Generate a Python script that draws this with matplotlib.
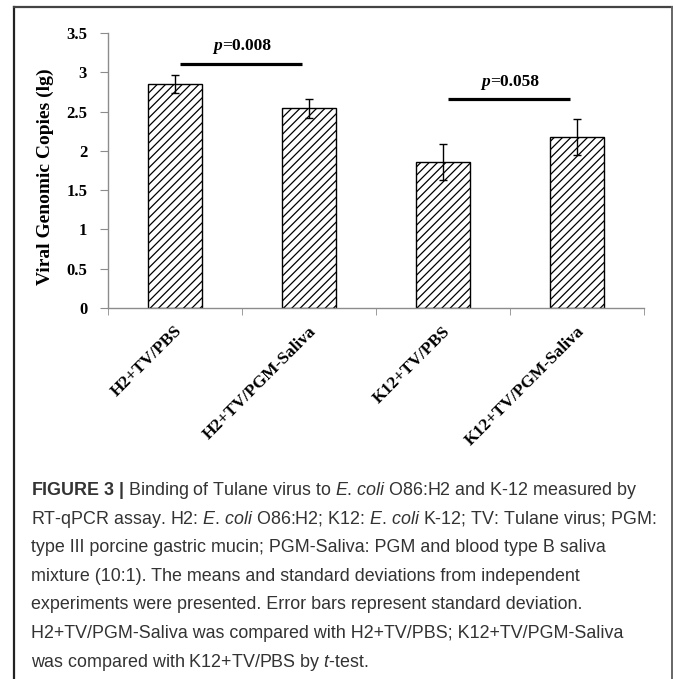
import numpy as np
import matplotlib
matplotlib.use("Agg")
import matplotlib.pyplot as plt
import matplotlib.transforms as mtransforms
from matplotlib.lines import Line2D

# data
groups = ["H2+TV/PBS", "H2+TV/PGM-Saliva", "K12+TV/PBS", "K12+TV/PGM-Saliva"]
means = [2.85, 2.54, 1.86, 2.18]
sds = [0.11, 0.12, 0.23, 0.23]
pvals = ["0.008", "0.058"]
pairs = [(0, 1), (2, 3)]
sig_y = [3.11, 2.66]
yticks = [0, 0.5, 1, 1.5, 2, 2.5, 3, 3.5]
ytick_labels = ["0", "0.5", "1", "1.5", "2", "2.5", "3", "3.5"]

caption = [
    r"$\mathbf{FIGURE\ 3\ |}$ Binding of Tulane virus to $\mathit{E}$. $\mathit{coli}$ O86:H2 and K-12 measured by",
    r"RT-qPCR assay. H2: $\mathit{E}$. $\mathit{coli}$ O86:H2; K12: $\mathit{E}$. $\mathit{coli}$ K-12; TV: Tulane virus; PGM:",
    "type III porcine gastric mucin; PGM-Saliva: PGM and blood type B saliva",
    "mixture (10:1). The means and standard deviations from independent",
    "experiments were presented. Error bars represent standard deviation.",
    "H2+TV/PGM-Saliva was compared with H2+TV/PBS; K12+TV/PGM-Saliva",
    r"was compared with K12+TV/PBS by $\mathit{t}$-test.",
]

plt.rcParams["mathtext.fontset"] = "custom"
plt.rcParams["mathtext.rm"] = "Liberation Sans"
plt.rcParams["mathtext.it"] = "Liberation Sans:italic"
plt.rcParams["mathtext.bf"] = "Liberation Sans:bold"
plt.rcParams["hatch.linewidth"] = 0.9

W, H = 673, 679
fig = plt.figure(figsize=(W / 100, H / 100), dpi=100)
ax = fig.add_axes([108 / W, 1 - 308 / H, (644 - 108) / W, (308 - 33) / H])

x = np.arange(len(groups))
ax.bar(x, means, width=0.41, color="white", edgecolor="black",
       hatch="////", linewidth=1.0, zorder=2)
ax.errorbar(x, means, yerr=sds, fmt="none", ecolor="black",
            elinewidth=1.0, capsize=3, capthick=1.0, zorder=3)

serif = "Liberation Serif"
for (a, b), yy, p in zip(pairs, sig_y, pvals):
    ax.plot([a + 0.04, b - 0.05], [yy, yy], color="black", lw=2.3,
            solid_capstyle="butt")
    mid = (a + b) / 2 - 0.15
    ax.text(mid, yy + 0.17, "p", family=serif, weight="bold", style="italic",
            fontsize=12.5, ha="right", va="baseline")
    ax.text(mid, yy + 0.17, "=" + p, family=serif, weight="bold",
            fontsize=12.5, ha="left", va="baseline")

ax.set_xlim(-0.5, len(groups) - 0.5)
ax.set_ylim(0, 3.5)
ax.set_yticks(yticks)
ax.set_yticklabels(ytick_labels, family=serif, weight="bold", fontsize=12)
ax.set_xticks(x)
ax.set_xticklabels(groups, family=serif, weight="bold", fontsize=12.5,
                   rotation=45, ha="right", va="center", rotation_mode="anchor")
ax.set_xticks(np.arange(len(groups) + 1) - 0.5, minor=True)
ax.tick_params(axis="x", which="major", length=0, pad=15)
ax.tick_params(axis="x", which="minor", length=5, color="#8c8c8c", direction="out")
ax.tick_params(axis="y", length=6, color="#8c8c8c", direction="out", pad=9)
offset = mtransforms.ScaledTranslation(5 / 100, 0, fig.dpi_scale_trans)
for lab in ax.get_xticklabels():
    lab.set_transform(lab.get_transform() + offset)

for s in ["top", "right"]:
    ax.spines[s].set_visible(False)
for s in ["left", "bottom"]:
    ax.spines[s].set_color("#8c8c8c")
    ax.spines[s].set_linewidth(1.0)

fig.text(45 / W, 1 - 177 / H, "Viral Genomic Copies (lg)", family=serif,
         weight="bold", fontsize=14, rotation=90, ha="center", va="center")

# caption
for i, line in enumerate(caption):
    fig.text(31 / W, 1 - (495 + i * 28.6) / H, line, family="Liberation Sans",
             fontsize=12.9, color="#333333", ha="left", va="baseline")

# outer frame
fig.add_artist(Line2D([14 / W, 14 / W], [0, 1 - 7 / H], transform=fig.transFigure,
                      color="#222222", lw=1.6))
fig.add_artist(Line2D([14 / W, 671.5 / W], [1 - 7 / H, 1 - 7 / H],
                      transform=fig.transFigure, color="#444444", lw=1.6))
fig.add_artist(Line2D([671.5 / W, 671.5 / W], [0, 1 - 7 / H],
                      transform=fig.transFigure, color="#666666", lw=1.4))

fig.savefig("out.png", dpi=100)
